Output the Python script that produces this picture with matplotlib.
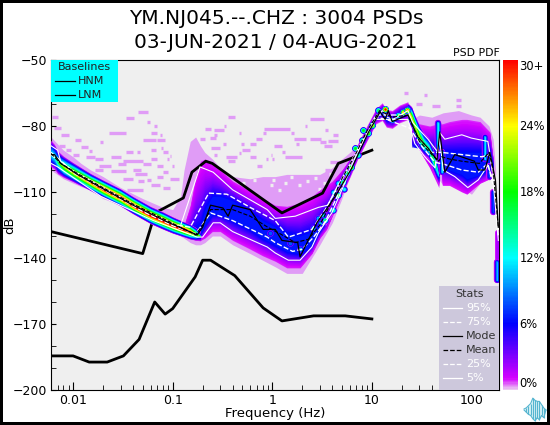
import numpy as np
import matplotlib
matplotlib.use('Agg')
import matplotlib.pyplot as plt
from matplotlib.cm import ScalarMappable
from matplotlib.colors import LinearSegmentedColormap, Normalize
from matplotlib.patches import Rectangle

# noise models
hnm_f = [0.006, 0.05, 0.0667, 0.128, 0.156, 0.215, 0.25, 1.25, 3.2, 4.6, 6.8, 10]
hnm_db = [-128, -138, -119.5, -112.7, -101, -96, -97, -119.5, -110.5, -97, -94, -91]
lnm_f = [0.006, 0.01, 0.0145, 0.022, 0.032, 0.046, 0.066, 0.084, 0.1, 0.168, 0.2, 0.24, 0.42, 0.81, 1.25, 2.6, 5.4, 10]
lnm_db = [-184.5, -184.5, -187.3, -187.3, -184.5, -177, -160, -165.5, -163, -148.6, -141, -141, -148, -162.7, -168.6, -166.3, -166.3, -167.7]

# statistics lines
p95_f = [0.006, 0.007, 0.0075, 0.01, 0.02, 0.05, 0.119, 0.15, 0.188, 0.255, 0.4, 0.89, 1.07, 1.7, 2.9, 3.6, 4.3, 5.8, 7.4, 10.9, 12.7, 14.2, 16.3, 23, 25.8, 36.6, 46, 48, 54, 80, 100, 146, 165, 186]
p95_db = [-89, -91, -96, -100.3, -107.8, -118, -125.8, -112, -98.6, -101, -109, -118, -122, -121, -117, -116, -109, -98.6, -89.5, -77, -73, -76, -77, -73, -78.6, -86, -92, -83, -86, -84, -85.5, -87, -101, -127]
p75_f = [0.006, 0.01, 0.02, 0.05, 0.1, 0.15, 0.23, 0.35, 0.6, 1.07, 1.45, 1.7, 2.5, 3.4, 5, 7.4, 11, 14, 23, 29, 40, 50, 80, 127, 153, 175, 186]
p75_db = [-92, -100.7, -108.2, -118.2, -124.7, -126, -110.5, -111, -117, -123, -130.5, -129.5, -127, -118, -104.5, -90, -75, -75, -75, -85, -92, -92, -93, -94, -93, -110, -126]
p25_f = [0.006, 0.01, 0.02, 0.05, 0.1, 0.17, 0.24, 0.4, 0.89, 1.07, 1.6, 2, 2.6, 3.4, 5, 7.4, 11, 14, 24, 32, 43, 54, 80, 117, 146, 175, 186]
p25_db = [-93, -101.3, -108.8, -118.8, -125.3, -129, -119.5, -123, -130.5, -133, -137, -136, -130.5, -123.5, -107.5, -91, -76, -77, -81, -89.5, -96.5, -97.5, -100, -101, -97, -112, -130]
p5_f = [0.006, 0.007, 0.019, 0.064, 0.176, 0.2, 0.255, 0.3, 0.4, 0.89, 1.07, 1.45, 1.9, 2.5, 2.9, 3.96, 5, 7.3, 10.9, 15, 23, 27, 34, 43, 48, 52, 68, 92, 117, 146, 165, 186]
p5_db = [-97, -98.6, -112, -123, -130.5, -130.5, -124, -124, -128, -135, -137.7, -141, -141, -135, -128.6, -119.5, -109, -91, -77, -77, -77, -88, -94, -99, -86, -100, -103, -108, -104.5, -98, -104.5, -132]
mode_f = [0.006, 0.0065, 0.0075, 0.011, 0.019, 0.04, 0.088, 0.176, 0.2, 0.24, 0.32, 0.36, 0.4, 0.6, 0.81, 1.07, 1.25, 1.8, 1.9, 2.8, 4.3, 6.3, 9.2, 12.1, 13.6, 14.6, 16, 23, 29, 36.6, 45, 48, 54, 68, 107, 117, 136, 153, 174, 186]
mode_db = [-93, -93, -97, -102, -108, -116, -123.6, -129.5, -126, -116, -117.3, -121, -116, -118, -127, -127, -132, -133, -139.5, -124, -112, -99, -83, -73.6, -77, -73, -78, -75, -85, -90, -95.5, -82.7, -101, -93, -96, -100, -100, -92, -104.5, -126]
mean_f = [0.006, 0.0075, 0.011, 0.019, 0.04, 0.088, 0.17, 0.2, 0.24, 0.32, 0.4, 0.6, 0.9, 1.2, 1.7, 2.3, 3, 4, 5, 7, 9, 12, 16, 23, 30, 40, 47, 50, 60, 80, 120, 150, 165, 186]
mean_db = [-92.5, -97, -101.5, -107.5, -115.5, -123, -129.5, -125, -118, -118, -118, -121, -126, -129, -133, -131.5, -125, -114, -104, -92, -82, -73, -76, -75, -87, -93, -96, -94, -95, -96, -97, -92, -100, -126]

# PDF ridge below the microseism peak
ridge_f = [0.006, 0.0065, 0.007, 0.008, 0.01, 0.015, 0.02, 0.03, 0.04, 0.06, 0.08, 0.1, 0.13, 0.15, 0.17, 0.19]
ridge_mid = [-92.5, -94, -96.5, -98.5, -101, -105.5, -108.5, -112.5, -116, -120.5, -123, -125, -127, -128, -129, -130]
ridge_w = [6.5, 6, 5.5, 5, 4.5, 4, 4, 4, 4, 4, 4, 3.8, 3.5, 3.5, 3, 2.5]
ridge_peak = [14, 14, 16, 22, 26, 30, 34, 34, 34, 34, 34, 34, 34, 30, 22, 8]

# PDF ridge on the way up to 10 Hz
rise_f = [3.4, 4, 5, 6, 7.3, 9, 11, 12.7, 14, 16, 19, 23]
rise_mid = [-122, -117, -107.5, -100, -91, -83, -75.5, -73.5, -76.5, -77, -74.5, -73]
rise_w = [4, 4, 4, 4, 4, 4, 4, 4.5, 4.5, 4.5, 4.5, 4.5]
rise_peak = [6, 6, 6, 6, 6, 6, 6, 8, 8, 8, 8, 8]

# PDF ridge falling towards 45 Hz
fall_f = [23, 25, 27, 30, 33, 37, 41, 45, 47]
fall_mid = [-73.5, -76, -80, -85, -88, -90, -95, -100, -103]
fall_w = [4, 5, 5, 5.5, 5.5, 5, 5, 5, 4]
fall_peak = [28, 24, 24, 22, 18, 16, 18, 14, 8]

# broad part of the PDF, 0.13 to 7 Hz
dome_f = [0.13, 0.15, 0.17, 0.19, 0.21, 0.25, 0.3, 0.4, 0.6, 0.8, 1.07, 1.4, 1.9, 2.5, 3, 3.5, 4, 5, 6, 7.3]
dome_out_hi = [-125, -116, -103, -96, -95, -97, -100, -105, -109.5, -113, -116, -116.5, -115, -112, -109, -107, -105, -100, -95, -90]
dome_out_lo = [-129.5, -131, -132, -132, -131, -128, -128, -132, -136, -139, -141.5, -144.5, -144.5, -138, -131, -127, -121, -111, -101, -92]
dome_in_hi = [-129, -129, -127, -126, -118, -112, -112, -114, -119, -123, -126, -129, -130, -128, -123, -119, -114, -104, -97, -91]
dome_in_lo = [-129, -129.5, -129.5, -129, -125, -120, -120, -123, -127, -131, -134, -137, -138, -134, -127.5, -123, -117, -107, -99, -91.5]

# broad part of the PDF above 25 Hz
high_f = [25, 30, 38, 46, 47, 48, 49, 51, 60, 80, 90, 122, 153, 165]
high_out_hi = [-77, -79, -80, -79, -79, -79, -79, -79, -78, -77, -77, -78, -82.7, -95]
high_out_lo = [-80, -91, -99, -107, -108, -85, -85, -107, -107, -110, -111, -106, -104, -100]
high_in_hi = [-90, -90, -90, -90, -90, -90, -90, -92, -92, -92, -92, -92, -92, -98]
high_in_lo = [-90, -90, -90, -90, -90, -90, -90, -98, -100, -102, -104, -102, -99, -98]

# light haze around the PDF
haze_f = [0.006, 0.008, 0.01, 0.012, 0.015, 0.02, 0.03, 0.05, 0.08, 0.1, 0.12, 0.13, 0.15, 0.17, 0.19, 0.21, 0.25, 0.3, 0.4, 0.6, 0.8, 1.07, 1.4, 2, 3, 4, 5, 6, 7.3]
haze_hi = [-85, -91, -94, -97, -100, -103, -108, -113, -117, -118, -112, -100, -87, -85, -89, -92, -95, -99, -103, -104, -103, -103, -102, -102, -102, -99, -95, -92, -88]
haze_lo = [-100, -104, -106, -107.5, -109, -113, -116, -121, -125, -127, -130, -131, -133, -134, -134, -133, -130, -130, -134, -138, -141, -144, -147, -147, -134, -124, -113, -103, -93]
haze2_f = [25, 30, 40, 52, 74, 100, 122, 150, 165, 175]
haze2_hi = [-77, -75, -76, -74, -73, -75, -76, -80, -86, -100]
haze2_lo = [-80, -91, -100, -107, -107, -111, -106, -104, -103, -102]

# isolated low probability cells (from Hz, to Hz, dB)
specks = [(0.034, 0.041, -76.5), (0.045, 0.056, -73.5), (0.055, 0.059, -78), (0.065, 0.069, -80), (0.061, 0.07, -83), (0.075, 0.079, -84),
          (0.0228, 0.034, -83), (0.0185, 0.0198, -87.5), (0.0065, 0.0075, -81), (0.0075, 0.009, -84), (0.0105, 0.012, -86.5), (0.012, 0.014, -89.5),
          (0.0145, 0.0155, -91.5), (0.0135, 0.0165, -94), (0.0165, 0.02, -95), (0.018, 0.024, -98), (0.0165, 0.02, -100), (0.032, 0.05, -96),
          (0.044, 0.047, -92), (0.05, 0.068, -86.4), (0.07, 0.083, -86.5), (0.06, 0.068, -91), (0.076, 0.08, -90), (0.088, 0.092, -95),
          (0.098, 0.103, -98), (0.024, 0.034, -100.5), (0.032, 0.04, -104), (0.042, 0.055, -102), (0.055, 0.06, -104.5), (0.07, 0.08, -103),
          (0.095, 0.115, -104), (0.04, 0.048, -100), (0.05, 0.06, -97.5), (0.025, 0.032, -110), (0.035, 0.05, -109), (0.06, 0.075, -107), (0.093, 0.097, -93.5),
          (0.0062, 0.007, -76), (0.0072, 0.0082, -89), (0.0085, 0.0095, -91), (0.01, 0.0115, -93), (0.024, 0.03, -94), (0.028, 0.034, -97.5),
          (0.034, 0.04, -92), (0.08, 0.09, -92), (0.06, 0.07, -95), (0.07, 0.08, -98), (0.08, 0.09, -101), (0.045, 0.052, -105), (0.08, 0.095, -108),
          (0.36, 0.42, -75.9), (0.33, 0.345, -80), (0.21, 0.24, -81.5), (0.26, 0.33, -82), (0.26, 0.28, -84), (0.46, 0.49, -83), (0.83, 1.5, -81.5),
          (0.81, 0.86, -83), (1.55, 1.65, -83), (2.4, 3.3, -77), (2.15, 2.25, -80), (3.4, 3.6, -82), (4.1, 4.6, -84), (1.65, 2.2, -86), (2.4, 3.1, -86),
          (3, 3.5, -87.5), (3.6, 4.6, -87), (1.75, 1.85, -88), (0.188, 0.21, -86), (0.238, 0.27, -85.5), (0.32, 0.34, -88), (0.49, 0.52, -88),
          (0.68, 0.78, -86), (0.6, 0.68, -88), (0.5, 0.6, -91), (0.46, 0.49, -92.5), (1.03, 1.25, -89), (0.96, 1, -93), (1.25, 1.35, -92), (1, 1.05, -95),
          (1.35, 2, -94), (0.6, 0.68, -94), (0.7, 0.78, -98), (0.86, 0.9, -95), (0.24, 0.3, -90), (0.26, 0.28, -93), (0.34, 0.44, -94), (0.36, 0.42, -96),
          (3.3, 4, -89), (3.8, 4.8, -96.5), (3.4, 3.8, -100), (21, 23, -65), (33, 36, -66), (70, 78, -68), (70, 78, -71), (28, 32, -70), (40, 48, -71)]
# gaps in the haze
holes = [(0.88, -101.3), (1, -104.5), (1.3, -106), (1.8, -107), (1.9, -101), (2.6, -103.5), (2.9, -108.5), (3.7, -102), (0.75, -101), (0.64, -104.5), (1.15, -109),
         (0.5, -106), (2.2, -105), (3.2, -106), (1.5, -103), (0.95, -107)]
# hot spots (Hz, dB, percent)
blobs = [(2.58, -126.4, 12), (2.9, -121.8, 11), (3.26, -120.5, 12), (3.41, -122.7, 16), (4.1, -118.2, 14), (4.6, -111.4, 18), (4.1, -110, 12),
         (4.6, -105.9, 13), (5.17, -105.5, 18), (5.67, -101.4, 16), (6.22, -98.6, 22), (6.82, -90, 18), (8.03, -86.4, 16), (8.2, -81.8, 18),
         (10.1, -79.5, 24), (11.4, -72.7, 16), (13.4, -72.3, 30), (16.1, -77.3, 14), (20.7, -73.6, 26), (22.7, -72.7, 28), (0.95, -128.6, 9), (1.5, -133, 9), (1.9, -136, 11),
         (7.3, -93, 14), (9.2, -83, 20), (18.5, -75, 18), (3, -124, 10), (5.3, -108.5, 12)]
# vertical hot columns (Hz, top dB, bottom dB, percent)
columns = [(46, -78.6, -89.5, 13), (51, -92, -101, 12), (136, -85, -95, 12), (150, -98, -103, 8), (165, -110, -119, 8), (181, -128, -140, 2.5), (180, -142, -150, 11)]

# colour bar
cb_ticks = [0, 6, 12, 18, 24, 30]
cb_labels = ['0%', '6%', '12%', '18%', '24%', '30+']

pdf_cmap = LinearSegmentedColormap.from_list('pdf', [(0, '#eccbf2'), (1 / 30, '#d400ff'), (6 / 30, '#0000ff'), (12 / 30, '#00ffff'),
                                                     (18 / 30, '#00ff00'), (24 / 30, '#ffff00'), (1, '#ff0000')])
norm = Normalize(0, 30)
light = '#e09cf6'


def ridge(ax, f, mid, w, peak):
    f, mid, w, peak = map(np.array, (f, mid, w, peak))
    for level in np.arange(0.8, 36, 0.8):
        hw = w * np.clip(1 - level / peak, 0, 1)
        ax.fill_between(f, mid - hw, mid + hw, color=pdf_cmap(norm(level)), lw=0, zorder=3.3)


def shade(ax, f, out_lo, out_hi, in_lo, in_hi):
    f, out_lo, out_hi, in_lo, in_hi = map(np.array, (f, out_lo, out_hi, in_lo, in_hi))
    for t in np.linspace(0, 1, 24):
        ax.fill_between(f, out_lo + t * (in_lo - out_lo), out_hi + t * (in_hi - out_hi), color=pdf_cmap(norm(0.9 + t ** 1.5 * 5.6)), lw=0, zorder=3)


fig = plt.figure(figsize=(5.5, 4.25), dpi=100, edgecolor='black', linewidth=4)
ax = fig.add_axes([51 / 550, 35 / 425, 448 / 550, 330 / 425])
ax.set_facecolor('#efefef')

ax.fill_between(haze_f, haze_lo, haze_hi, color=light, lw=0, zorder=1)
ax.fill_between(haze2_f, haze2_lo, haze2_hi, color=light, lw=0, zorder=1)
for f0, f1, db in specks:
    ax.plot([f0, f1], [db, db], color=light, lw=2.4, solid_capstyle='butt', zorder=1)
for f0, db in holes:
    ax.plot([f0, f0 * 1.07], [db, db], color='#efefef', lw=2.4, solid_capstyle='butt', zorder=1.5)

shade(ax, dome_f, dome_out_lo, dome_out_hi, dome_in_lo, dome_in_hi)
shade(ax, high_f, high_out_lo, high_out_hi, high_in_lo, high_in_hi)

ax.plot(hnm_f, hnm_db, color='black', lw=2, zorder=3.2)
ax.plot(lnm_f, lnm_db, color='black', lw=2, zorder=3.2)

ridge(ax, ridge_f, ridge_mid, ridge_w, ridge_peak)
ridge(ax, rise_f, rise_mid, rise_w, rise_peak)
ridge(ax, fall_f, fall_mid, fall_w, fall_peak)

for f0, db, peak in blobs:
    for level in np.arange(2, peak + 0.1, 2):
        ax.scatter([f0], [db], s=26 * (1 - level / (peak + 2)), color=pdf_cmap(norm(level)), lw=0, zorder=3.5)
for f0, top, bot, peak in columns:
    for level in np.arange(1, peak + 0.1, 1):
        ax.plot([f0, f0], [top, bot], color=pdf_cmap(norm(level)), lw=5 * (1 - level / (peak + 1)), solid_capstyle='round', zorder=3.6)

ax.plot(p95_f, p95_db, color='white', lw=0.8, zorder=5)
ax.plot(p5_f, p5_db, color='white', lw=0.8, zorder=5)
ax.plot(p75_f, p75_db, color='white', lw=1, ls='--', zorder=5)
ax.plot(p25_f, p25_db, color='white', lw=1, ls='--', zorder=5)
ax.plot(mode_f, mode_db, color='black', lw=0.9, zorder=5.5)
ax.plot(mean_f, mean_db, color='black', lw=0.8, ls='--', zorder=5.5)

ax.set_xscale('log')
ax.set_xlim(0.006, 189)
ax.set_ylim(-200, -50)
ax.set_xticks([0.01, 0.1, 1, 10, 100])
ax.set_xticklabels(['0.01', '0.1', '1', '10', '100'])
ax.set_yticks(np.arange(-200, -49, 30))
ax.set_yticks(np.arange(-200, -49, 10), minor=True)
ax.tick_params(axis='x', which='major', direction='in', length=6, labelsize=9, pad=3)
ax.tick_params(axis='x', which='minor', direction='in', length=3.5)
ax.tick_params(axis='y', which='both', direction='in', length=3.5, labelsize=9, pad=3)
ax.set_xlabel('Frequency (Hz)', fontsize=9.5, labelpad=0)
ax.set_ylabel('dB', fontsize=9.5)
ax.yaxis.set_label_coords(-0.078, 0.5)

fig.text(276 / 550, 1 - 18 / 425, 'YM.NJ045.--.CHZ : 3004 PSDs', ha='center', va='center', fontsize=14.5)
fig.text(276 / 550, 1 - 42 / 425, '03-JUN-2021 / 04-AUG-2021', ha='center', va='center', fontsize=14.5)
fig.text(500 / 550, 1 - 53 / 425, 'PSD PDF', ha='right', va='center', fontsize=7.8)

# Baselines box
ax.add_patch(Rectangle((0, 1 - 42 / 330), 67 / 448, 42 / 330, transform=ax.transAxes, color='#00ffff', lw=0, zorder=6))
ax.text(33 / 448, 1 - 7 / 330, 'Baselines', transform=ax.transAxes, ha='center', va='center', fontsize=8, color='#222222', zorder=7)
for i, name in enumerate(['HNM', 'LNM']):
    y = 1 - (21 + 14 * i) / 330
    ax.plot([4 / 448, 24 / 448], [y, y], transform=ax.transAxes, color='black', lw=0.9, zorder=7)
    ax.text(27 / 448, y, name, transform=ax.transAxes, ha='left', va='center', fontsize=8, color='#222222', zorder=7)

# Stats box
ax.add_patch(Rectangle((388 / 448, 0), 60 / 448, 104 / 330, transform=ax.transAxes, color='#cdc8dc', lw=0, zorder=6))
ax.text(418 / 448, 96 / 330, 'Stats', transform=ax.transAxes, ha='center', va='center', fontsize=8, color='#333333', zorder=7)
stat_names = ['95%', '75%', 'Mode', 'Mean', '25%', '5%']
stat_colors = ['white', 'white', 'black', 'black', 'white', 'white']
stat_styles = ['-', '--', '-', '--', '--', '-']
for i in range(6):
    y = (82 - 14 * i) / 330
    ax.plot([392 / 448, 411 / 448], [y, y], transform=ax.transAxes, color=stat_colors[i], ls=stat_styles[i], lw=0.9, zorder=7)
    ax.text(415 / 448, y, stat_names[i], transform=ax.transAxes, ha='left', va='center', fontsize=8,
            color='white' if stat_colors[i] == 'white' else '#333333', zorder=7)

cax = fig.add_axes([503 / 550, 35 / 425, 15 / 550, 330 / 425])
cb = fig.colorbar(ScalarMappable(norm=norm, cmap=pdf_cmap), cax=cax)
cb.outline.set_visible(False)
cb.set_ticks([])
for val, lab in zip(cb_ticks, cb_labels):
    va = 'bottom' if val == 0 else 'top' if val == 30 else 'center'
    cax.text(1.1, val, lab, ha='left', va=va, fontsize=8.3)

# logo
logo_x = [0, 1, 2, 3, 4, 5, 6, 7, 8, 9, 10]
logo_top = [1, 2, 4, 6, 11, 9, 8, 8, 5, 2, 0]
logo_bot = [0, -2, -4, -5, -8, -10, -7, -9, -5, -7, 0]
lax = fig.add_axes([523 / 550, 3 / 425, 24 / 550, 25 / 425])
lax.fill_between(logo_x, logo_bot, logo_top, color='#d6f1f6', lw=0)
lax.plot(logo_x, logo_top, color='#55b5d0', lw=0.8)
lax.plot(logo_x, logo_bot, color='#55b5d0', lw=0.8)
lax.vlines(logo_x[1:-1], logo_bot[1:-1], logo_top[1:-1], color='#55b5d0', lw=0.8)
lax.axis('off')

fig.savefig('out.png', dpi=100)
